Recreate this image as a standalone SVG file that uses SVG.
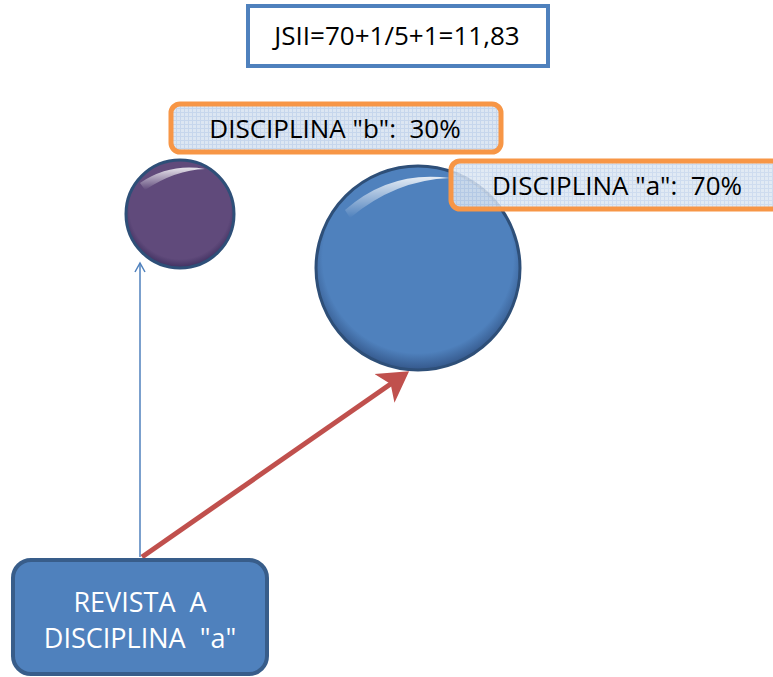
<svg xmlns="http://www.w3.org/2000/svg" width="773" height="677" viewBox="0 0 773 677">
<style>
text{white-space:pre}
.t{font-family:"Open Sans","Liberation Sans",sans-serif;font-size:26px;fill:#000;text-anchor:middle}
.w{font-family:"Open Sans","Liberation Sans",sans-serif;font-size:27px;fill:#fff;text-anchor:middle}
.lbl{stroke:#F79646;stroke-width:5;fill:url(#grid)}
</style>
<defs>
<pattern id="grid" width="4" height="4" patternUnits="userSpaceOnUse">
<rect width="4" height="4" fill="#DCE6F2"/>
<path d="M0 0.5H4M0.5 0V4" stroke="#C6D6EC" stroke-width="1"/>
</pattern>
<radialGradient id="gp" cx="50%" cy="45%" r="55%">
<stop offset="0.85" stop-color="#604A7B"/>
<stop offset="1" stop-color="#3F3060"/>
</radialGradient>
<radialGradient id="gb" cx="50%" cy="45%" r="55%">
<stop offset="0.85" stop-color="#4F81BD"/>
<stop offset="1" stop-color="#34578A"/>
</radialGradient>
<linearGradient id="hl" x1="0" y1="0" x2="0" y2="1">
<stop offset="0" stop-color="#fff" stop-opacity="0.85"/>
<stop offset="1" stop-color="#fff" stop-opacity="0"/>
</linearGradient>
<marker id="ob" markerWidth="12" markerHeight="12" refX="10" refY="6" orient="auto" markerUnits="userSpaceOnUse">
<path d="M1 1L10 6L1 11" fill="none" stroke="#4F81BD" stroke-width="1.5"/>
</marker>
<marker id="ar" markerWidth="8" markerHeight="8" refX="5" refY="4" orient="auto" markerUnits="strokeWidth">
<path d="M0 0.5L6 4L0 7.5L1.5 4Z" fill="#C0504D"/>
</marker>
</defs>
<g id="formula">
<rect x="248" y="6" width="300" height="60" fill="#fff" stroke="#4F81BD" stroke-width="4"/>
<text class="t" x="397" y="45">JSII=70+1/5+1=11,83</text>
</g>
<g id="circle-b">
<circle cx="180" cy="214" r="54" fill="url(#gp)" stroke="#2E4F78" stroke-width="3"/>
<path d="M140 183Q170 163 205 169Q175 170 145 190Z" fill="url(#hl)"/>
</g>
<g id="circle-a">
<circle cx="418" cy="268" r="102" fill="url(#gb)" stroke="#2E4F78" stroke-width="3"/>
<path d="M345 210Q390 170 450 178Q395 180 350 218Z" fill="url(#hl)"/>
</g>
<g id="label-b">
<rect class="lbl" x="171" y="104" width="330" height="48" rx="9"/>
<text class="t" x="335" y="138">DISCIPLINA "b":  30%</text>
</g>
<g id="label-a">
<rect class="lbl" x="451" y="161" width="340" height="48" rx="9" fill-opacity="0.85"/>
<text class="t" x="617" y="195">DISCIPLINA "a":  70%</text>
</g>
<g id="connectors">
<line x1="140" y1="557" x2="140" y2="263" stroke="#4F81BD" stroke-width="1.5" marker-end="url(#ob)"/>
<line x1="142" y1="557" x2="405" y2="374" stroke="#C0504D" stroke-width="5" marker-end="url(#ar)"/>
</g>
<g id="source">
<rect x="13" y="560" width="254" height="114" rx="18" fill="#4F81BD" stroke="#385D8A" stroke-width="4"/>
<text class="w" x="140" y="612">REVISTA  A</text>
<text class="w" x="140" y="648">DISCIPLINA  "a"</text>
</g>
</svg>
